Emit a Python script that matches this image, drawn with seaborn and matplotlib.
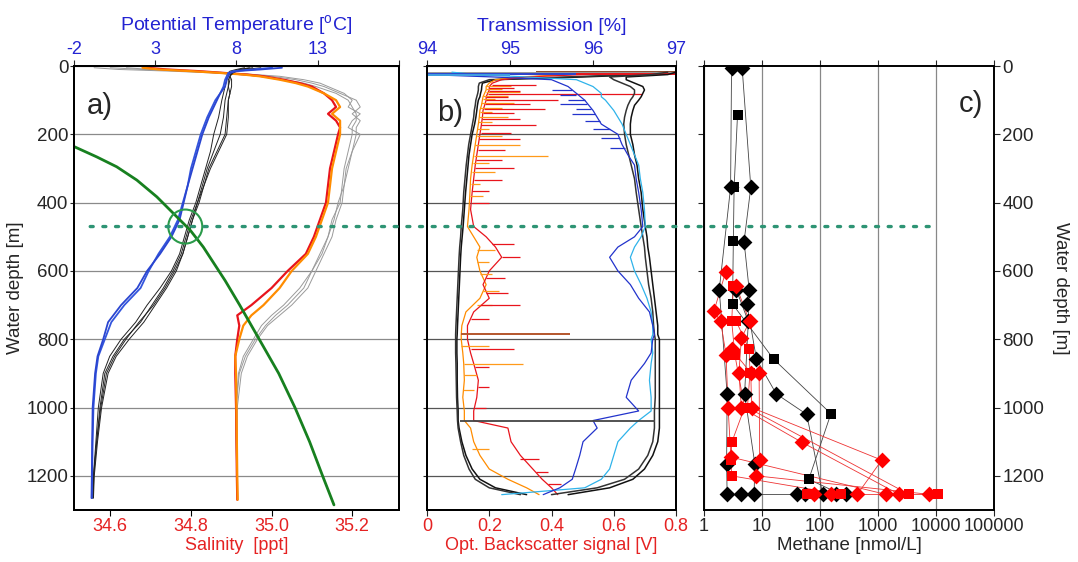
import seaborn as sns
import matplotlib.pyplot as plt
from matplotlib.patches import ConnectionPatch
from matplotlib.ticker import NullLocator

sns.set_style('ticks')
plt.rcParams['font.family'] = ['Liberation Sans', 'DejaVu Sans']
plt.rcParams['mathtext.fontset'] = 'custom'
plt.rcParams['mathtext.rm'] = 'Liberation Sans'
plt.rcParams['xtick.direction'] = 'out'
plt.rcParams['ytick.direction'] = 'out'

BLUE_TXT = '#2323d2'
RED_TXT = '#e52222'

# ---------------- panel a: CTD profiles ----------------
temp_depth = [5, 10, 15, 20, 30, 40, 60, 80, 100, 150, 200, 250, 300, 350, 400, 450,
              500, 550, 600, 650, 700, 750, 800, 850, 900, 1000, 1100, 1200, 1265]
temp_blue1 = [10.8, 9.5, 8.0, 7.6, 7.5, 7.4, 7.3, 7.0, 6.8, 6.3, 5.9, 5.6, 5.3, 5.0, 4.75, 4.5,
              4.0, 3.3, 2.5, 1.9, 0.9, 0.1, -0.2, -0.55, -0.7, -0.85, -0.88, -0.9, -0.92]
temp_blue2 = [10.2, 9.0, 7.8, 7.5, 7.4, 7.3, 7.2, 7.0, 6.7, 6.2, 5.8, 5.5, 5.2, 5.0, 4.7, 4.4,
              3.9, 3.2, 2.6, 2.1, 1.1, 0.3, -0.1, -0.5, -0.65, -0.8, -0.85, -0.88, -0.9]
temp_black1 = [9.5, 8.5, 8.0, 7.8, 7.6, 7.6, 7.5, 7.4, 7.3, 7.2, 7.0, 6.6, 6.2, 5.9, 5.6, 5.2,
               4.9, 4.6, 4.1, 3.5, 2.8, 2.1, 1.1, 0.4, -0.1, -0.4, -0.6, -0.8, -0.85]
temp_black2 = [8.8, 8.2, 7.8, 7.7, 7.6, 7.5, 7.5, 7.6, 7.5, 7.4, 7.3, 6.8, 6.3, 6.0, 5.6, 5.3,
               5.0, 4.7, 4.3, 3.7, 3.0, 2.3, 1.4, 0.6, 0.1, -0.3, -0.55, -0.75, -0.8]
temp_black3 = [8.5, 8.0, 7.6, 7.5, 7.4, 7.4, 7.3, 7.2, 7.1, 6.9, 6.6, 6.4, 6.1, 5.8, 5.5, 5.1,
               4.8, 4.5, 4.0, 3.3, 2.5, 1.8, 0.9, 0.2, -0.2, -0.5, -0.65, -0.8, -0.85]
temp_black4 = [9.0, 8.3, 7.9, 7.7, 7.6, 7.7, 7.7, 7.6, 7.5, 7.5, 7.4, 6.9, 6.4, 6.0, 5.7, 5.3,
               5.0, 4.7, 4.2, 3.6, 2.9, 2.0, 1.2, 0.5, 0.0, -0.35, -0.6, -0.78, -0.82]

sal_depth = [5, 10, 15, 20, 25, 30, 40, 50, 60, 80, 100, 120, 140, 160, 180, 200, 250, 300,
             350, 400, 450, 500, 550, 600, 650, 700, 730, 760, 800, 850, 900, 1000, 1100, 1200, 1270]
sal_orange = [34.68, 34.72, 34.80, 34.87, 34.93, 34.97, 35.02, 35.06, 35.09, 35.13, 35.16, 35.17,
              35.15, 35.17, 35.17, 35.17, 35.16, 35.15, 35.145, 35.14, 35.125, 35.11, 35.09, 35.05,
              35.02, 34.98, 34.95, 34.93, 34.92, 34.91, 34.912, 34.913, 34.914, 34.915, 34.916]
sal_red = [34.69, 34.74, 34.82, 34.88, 34.94, 34.98, 35.03, 35.07, 35.10, 35.13, 35.15, 35.16,
           35.14, 35.16, 35.17, 35.165, 35.155, 35.145, 35.14, 35.135, 35.12, 35.105, 35.085, 35.04,
           35.0, 34.95, 34.915, 34.92, 34.915, 34.91, 34.91, 34.912, 34.913, 34.914, 34.915]
sal_grey1 = [34.56, 34.62, 34.75, 34.85, 34.92, 34.97, 35.03, 35.08, 35.11, 35.16, 35.19, 35.20,
             35.21, 35.21, 35.20, 35.20, 35.19, 35.18, 35.175, 35.17, 35.15, 35.14, 35.12, 35.10,
             35.08, 35.04, 35.01, 34.985, 34.96, 34.935, 34.92, 34.912, 34.913, 34.914, 34.915]
sal_grey2 = [34.60, 34.68, 34.78, 34.88, 34.95, 35.00, 35.06, 35.10, 35.13, 35.17, 35.21, 35.22,
             35.20, 35.22, 35.21, 35.21, 35.20, 35.19, 35.18, 35.175, 35.16, 35.15, 35.13, 35.11,
             35.09, 35.05, 35.02, 34.99, 34.965, 34.94, 34.925, 34.915, 34.914, 34.915, 34.916]
sal_grey3 = [34.64, 34.70, 34.82, 34.90, 34.96, 35.02, 35.08, 35.12, 35.14, 35.18, 35.20, 35.19,
             35.22, 35.20, 35.19, 35.22, 35.20, 35.185, 35.18, 35.165, 35.155, 35.14, 35.125, 35.10,
             35.07, 35.03, 35.0, 34.975, 34.955, 34.93, 34.918, 34.912, 34.912, 34.914, 34.915]

# gas hydrate stability boundary (temperature vs depth)
hsz_depth = [225, 237, 266, 295, 334, 383, 442, 481, 530, 628, 700, 800, 900, 1000, 1100, 1200, 1285]
hsz_temp = [-2.6, -1.94, -0.6, 0.63, 1.87, 3.1, 4.34, 5.16, 5.96, 7.3, 8.2, 9.4, 10.6, 11.6,
            12.5, 13.3, 14.0]
hsz_cross_temp = 4.85
hsz_cross_depth = 470

# ---------------- panel b: optics ----------------
opt_depth = [18, 25, 32, 40, 50, 60, 70, 80, 90, 100, 115, 130, 150, 170, 200, 230, 260, 290,
             330, 370, 420, 470, 500, 530, 560, 600, 640, 680, 720, 760, 786, 800, 840, 871,
             920, 970, 1010, 1038, 1060, 1100, 1140, 1180, 1210, 1235, 1255]
obs_black1 = [0.75, 0.7, 0.5, 0.22, 0.178, 0.176, 0.175, 0.172, 0.17, 0.165, 0.162, 0.16, 0.157,
              0.153, 0.145, 0.14, 0.135, 0.132, 0.128, 0.124, 0.12, 0.116, 0.113, 0.11, 0.108,
              0.106, 0.104, 0.102, 0.1, 0.098, 0.097, 0.096, 0.096, 0.097, 0.097, 0.098, 0.1,
              0.1, 0.103, 0.112, 0.125, 0.145, 0.17, 0.22, 0.32]
obs_black2 = [0.7, 0.66, 0.45, 0.2, 0.168, 0.165, 0.165, 0.163, 0.16, 0.157, 0.155, 0.152, 0.15,
              0.146, 0.14, 0.134, 0.13, 0.126, 0.122, 0.118, 0.115, 0.11, 0.108, 0.105, 0.103,
              0.101, 0.099, 0.097, 0.095, 0.093, 0.092, 0.092, 0.092, 0.093, 0.094, 0.095, 0.097,
              0.098, 0.1, 0.108, 0.118, 0.135, 0.155, 0.2, 0.3]
obs_orange = [0.8, 0.45, 0.3, 0.22, 0.2, 0.19, 0.19, 0.185, 0.18, 0.178, 0.175, 0.17, 0.168,
              0.165, 0.16, 0.155, 0.15, 0.145, 0.14, 0.138, 0.135, 0.13, 0.15, 0.17, 0.16, 0.17,
              0.19, 0.17, 0.125, 0.112, 0.11, 0.11, 0.115, 0.118, 0.12, 0.115, 0.12, 0.12, 0.14,
              0.15, 0.17, 0.2, 0.26, 0.32, 0.36]
obs_red = [0.8, 0.5, 0.32, 0.24, 0.21, 0.2, 0.2, 0.195, 0.19, 0.19, 0.185, 0.18, 0.178, 0.175,
           0.17, 0.165, 0.16, 0.155, 0.15, 0.145, 0.14, 0.15, 0.19, 0.22, 0.24, 0.2, 0.18, 0.2,
           0.15, 0.13, 0.13, 0.13, 0.14, 0.15, 0.165, 0.16, 0.15, 0.15, 0.26, 0.27, 0.3, 0.34,
           0.37, 0.4, 0.42]
trans_black1 = [97.0, 96.9, 96.4, 96.4, 96.5, 96.6, 96.62, 96.6, 96.58, 96.55, 96.5, 96.48,
                96.46, 96.45, 96.45, 96.48, 96.5, 96.53, 96.55, 96.58, 96.6, 96.63, 96.65, 96.66,
                96.68, 96.7, 96.72, 96.74, 96.76, 96.78, 96.78, 96.8, 96.8, 96.8, 96.8, 96.8,
                96.8, 96.8, 96.8, 96.78, 96.72, 96.62, 96.48, 96.2, 95.7]
trans_black2 = [96.9, 96.7, 96.2, 96.25, 96.35, 96.45, 96.5, 96.5, 96.48, 96.45, 96.42, 96.4,
                96.38, 96.37, 96.38, 96.4, 96.43, 96.46, 96.5, 96.52, 96.55, 96.58, 96.6, 96.62,
                96.63, 96.65, 96.67, 96.7, 96.72, 96.73, 96.74, 96.75, 96.75, 96.75, 96.75, 96.75,
                96.74, 96.74, 96.74, 96.72, 96.66, 96.55, 96.38, 96.05, 95.5]
trans_blue = [94.0, 94.0, 94.8, 95.5, 95.6, 95.7, 95.75, 95.8, 95.85, 95.9, 95.95, 96.0, 96.05,
              96.1, 96.3, 96.35, 96.42, 96.5, 96.52, 96.55, 96.58, 96.6, 96.5, 96.3, 96.2, 96.3,
              96.45, 96.55, 96.68, 96.72, 96.74, 96.72, 96.7, 96.62, 96.46, 96.4, 96.55, 96.0,
              96.05, 95.88, 95.84, 95.79, 95.75, 95.6, 95.4]
trans_cyan = [94.3, 94.6, 95.2, 95.8, 95.9, 96.0, 96.05, 96.1, 96.1, 96.15, 96.2, 96.25, 96.3,
              96.35, 96.4, 96.45, 96.5, 96.55, 96.57, 96.6, 96.62, 96.63, 96.58, 96.5, 96.45,
              96.5, 96.58, 96.65, 96.7, 96.72, 96.72, 96.7, 96.72, 96.7, 96.68, 96.7, 96.7,
              96.55, 96.45, 96.3, 96.25, 96.2, 96.1, 95.9, 94.9]

# single-sample spikes (depth, start, end)
orange_spike_depth = [58, 66, 75, 88, 97, 108, 122, 135, 148, 165, 185, 205, 230, 262, 285, 310,
                      345, 380, 540, 575, 610, 660, 700, 820, 871, 905, 950, 1120]
orange_spike_base = [0.19, 0.19, 0.19, 0.18, 0.18, 0.175, 0.17, 0.17, 0.168, 0.165, 0.16, 0.16,
                     0.155, 0.15, 0.148, 0.145, 0.14, 0.138, 0.16, 0.16, 0.17, 0.18, 0.16, 0.11,
                     0.118, 0.12, 0.115, 0.145]
orange_spike_peak = [0.27, 0.24, 0.3, 0.26, 0.22, 0.28, 0.24, 0.21, 0.26, 0.21, 0.2, 0.24, 0.3,
                     0.39, 0.2, 0.22, 0.17, 0.18, 0.22, 0.2, 0.21, 0.23, 0.21, 0.2, 0.31, 0.16,
                     0.15, 0.2]
red_spike_depth = [55, 63, 72, 83, 92, 100, 112, 125, 138, 155, 172, 195, 215, 245, 275, 300,
                   335, 365, 400, 520, 560, 620, 665, 700, 740, 830, 880, 940, 1000, 1150, 1190, 1225]
red_spike_base = [0.21, 0.2, 0.2, 0.195, 0.19, 0.19, 0.187, 0.182, 0.18, 0.178, 0.175, 0.172,
                  0.168, 0.163, 0.158, 0.155, 0.15, 0.146, 0.143, 0.21, 0.24, 0.19, 0.19, 0.17,
                  0.14, 0.14, 0.155, 0.165, 0.155, 0.3, 0.35, 0.39]
red_spike_peak = [0.35, 0.28, 0.3, 0.69, 0.26, 0.42, 0.33, 0.38, 0.28, 0.3, 0.35, 0.27, 0.3,
                  0.25, 0.24, 0.28, 0.24, 0.2, 0.2, 0.28, 0.3, 0.25, 0.26, 0.3, 0.2, 0.28, 0.2,
                  0.2, 0.19, 0.36, 0.39, 0.43]
blue_spike_depth = [70, 85, 100, 112, 125, 140, 160, 185, 210, 240]
blue_spike_base = [95.75, 95.8, 95.9, 95.93, 95.97, 96.02, 96.08, 96.2, 96.32, 96.38]
blue_spike_tip = [95.5, 95.6, 95.7, 95.6, 95.8, 95.75, 95.9, 96.0, 96.1, 96.2]
brown_spike = (786, 0.11, 0.46)
black_trans_spike = (1038, 94.4, 96.75)
surface_bs_depth = [18, 21, 24]
surface_bs_from = [0.35, 0.0, 0.25]
surface_bs_to = [0.8, 0.8, 0.8]
surface_tr_depth = [22, 27]
surface_tr_from = [94.0, 94.0]
surface_tr_to = [95.8, 95.0]

# ---------------- panel c: methane in water samples ----------------
# black = reference stations, red = flare stations; D = diamond, s = square
ch4_black_a_depth = [5, 355, 655, 960, 1164, 1254]
ch4_black_a = [2.98, 2.87, 1.83, 2.5, 2.45, 2.5]
ch4_black_b_depth = [5, 355, 514, 655, 697, 858, 960, 1020, 1254]
ch4_black_b = [4.54, 6.4, 4.9, 6.0, 5.5, 8.0, 17.6, 59, 111]
ch4_black_c_depth = [142, 355, 512, 697, 858, 1018, 1210, 1254]
ch4_black_c = [3.78, 3.3, 3.2, 3.1, 15.8, 154, 64, 228]
ch4_black_d_depth = [655, 748, 960, 1164, 1254]
ch4_black_d = [3.6, 5.8, 5.0, 7.5, 7.3]
ch4_black_e_depth = [1254, 1254, 1254, 1254, 1254]
ch4_black_e = [4.4, 40, 54, 188, 280]

ch4_red_a_depth = [604, 718, 748, 846, 1000, 1145, 1254]
ch4_red_a = [2.35, 1.48, 1.93, 2.4, 2.6, 2.9, 1350]
ch4_red_b_depth = [645, 748, 846, 1000, 1102, 1154, 1200, 1254]
ch4_red_b = [3.2, 3.0, 3.4, 5.0, 3.0, 2.9, 3.0, 230]
ch4_red_c_depth = [645, 748, 797, 898, 1000, 1102, 1254]
ch4_red_c = [3.6, 6.1, 4.4, 4.0, 4.4, 49, 2300]
ch4_red_d_depth = [748, 830, 898, 1000, 1254]
ch4_red_d = [3.6, 6.0, 6.2, 5.6, 3400]
ch4_red_e_depth = [830, 898, 1000, 1154, 1254]
ch4_red_e = [3.0, 6.4, 6.6, 1158, 440]
ch4_red_f_depth = [898, 1154, 1200, 1254]
ch4_red_f = [8.9, 9.1, 8.0, 7500]
ch4_red_g_depth = [1254, 1254]
ch4_red_g = [60, 11000]
ch4_red_h_depth = [1254, 1254]
ch4_red_h = [80, 155]

depth_ticks = [0, 200, 400, 600, 800, 1000, 1200]


def profile(ax, x, y, color, lw=0.8, zorder=2):
    sns.lineplot(x=x, y=y, ax=ax, sort=False, estimator=None, color=color,
                 lw=lw, legend=False, zorder=zorder)


fig = plt.figure(figsize=(10.78, 5.62), dpi=100)
ax_a = fig.add_axes([0.0686, 0.0925, 0.3015, 0.790])
ax_b = fig.add_axes([0.3961, 0.0925, 0.2310, 0.790])
ax_c = fig.add_axes([0.6531, 0.0925, 0.2690, 0.790])
ax_at = ax_a.twiny()
ax_bt = ax_b.twiny()

# --- panel a
for s in [sal_grey1, sal_grey2, sal_grey3]:
    profile(ax_a, s, sal_depth, '#9a9a9a', lw=0.7)
profile(ax_a, sal_red, sal_depth, '#e8141c', lw=1.6)
profile(ax_a, sal_orange, sal_depth, '#ff8c00', lw=1.6)
for t in [temp_black1, temp_black2, temp_black3, temp_black4]:
    profile(ax_at, t, temp_depth, '#222222', lw=0.7)
profile(ax_at, temp_blue2, temp_depth, '#3355dd', lw=1.3)
profile(ax_at, temp_blue1, temp_depth, '#2a45d0', lw=1.3)
profile(ax_at, hsz_temp, hsz_depth, '#17801f', lw=2.0)
ax_at.scatter([hsz_cross_temp], [hsz_cross_depth], s=600, facecolors='none',
              edgecolors='#2a9a4a', linewidths=1.5, zorder=5)

ax_a.set_ylim(1300, 0)
ax_a.set_xlim(34.51, 35.316)
ax_a.set_xticks([34.6, 34.8, 35.0, 35.2])
ax_a.set_xticklabels(['34.6', '34.8', '35.0', '35.2'])
ax_a.set_yticks(depth_ticks)
ax_a.grid(axis='y', color='#8a8a8a', lw=0.9)
ax_a.set_axisbelow(True)
ax_a.tick_params(axis='x', colors='black', labelcolor=RED_TXT, labelsize=13, length=4, pad=2)
ax_a.tick_params(axis='y', labelsize=13.5, length=3, pad=1)
ax_a.set_xlabel('Salinity  [ppt]', color=RED_TXT, fontsize=13, labelpad=1)
ax_a.set_ylabel('Water depth [m]', fontsize=13.5, labelpad=2)

ax_at.set_xlim(-2, 18)
ax_at.set_xticks([-2, 3, 8, 13, 18])
ax_at.set_xticklabels(['-2', '3', '8', '13', ''])
ax_at.tick_params(axis='x', labelcolor=BLUE_TXT, labelsize=13, length=4, pad=2)
ax_at.set_xlabel('Potential Temperature [$^\\mathrm{o}$C]', color=BLUE_TXT, fontsize=14, labelpad=7)
ax_a.text(0.04, 0.91, 'a)', transform=ax_a.transAxes, fontsize=21, va='center')

# --- panel b
profile(ax_b, obs_black1, opt_depth, '#111111', lw=1.1)
profile(ax_b, obs_black2, opt_depth, '#333333', lw=1.1)
profile(ax_b, obs_orange, opt_depth, '#ff8c00', lw=0.9)
profile(ax_b, obs_red, opt_depth, '#e8141c', lw=0.9)
ax_b.hlines(orange_spike_depth, orange_spike_base, orange_spike_peak, color='#ff9a1a', lw=0.9, zorder=2)
ax_b.hlines(red_spike_depth, red_spike_base, red_spike_peak, color='#e8141c', lw=0.9, zorder=2)
ax_b.hlines([brown_spike[0]], [brown_spike[1]], [brown_spike[2]], color='#b4562c', lw=1.4, zorder=2)
ax_b.hlines(surface_bs_depth, surface_bs_from, surface_bs_to,
            color=['#8b4a2a', '#999999', '#e8141c'], lw=1.4, zorder=2)

profile(ax_bt, trans_black1, opt_depth, '#111111', lw=1.1)
profile(ax_bt, trans_black2, opt_depth, '#333333', lw=1.1)
profile(ax_bt, trans_cyan, opt_depth, '#2fb3ea', lw=0.9)
profile(ax_bt, trans_blue, opt_depth, '#2233cc', lw=0.9)
ax_bt.hlines(blue_spike_depth, blue_spike_base, blue_spike_tip, color='#2233cc', lw=0.9, zorder=2)
ax_bt.hlines([black_trans_spike[0]], [black_trans_spike[1]], [black_trans_spike[2]],
             color='#444444', lw=1.3, zorder=2)
ax_bt.hlines(surface_tr_depth, surface_tr_from, surface_tr_to,
             color=['#2a45d0', '#3fa0e0'], lw=1.4, zorder=2)

ax_b.set_ylim(1300, 0)
ax_b.set_xlim(0, 0.8)
ax_b.set_xticks([0, 0.2, 0.4, 0.6, 0.8])
ax_b.set_xticklabels(['0', '0.2', '0.4', '0.6', '0.8'])
ax_b.set_yticks(depth_ticks)
ax_b.grid(axis='y', color='#555555', lw=0.9)
ax_b.set_axisbelow(True)
ax_b.tick_params(axis='x', labelcolor=RED_TXT, labelsize=13, length=4, pad=2)
ax_b.tick_params(axis='y', labelleft=False, length=3)
ax_b.set_xlabel('Opt. Backscatter signal [V]', color=RED_TXT, fontsize=13, labelpad=1)
ax_b.set_ylabel('')

ax_bt.set_xlim(94, 97)
ax_bt.set_xticks([94, 95, 96, 97])
ax_bt.tick_params(axis='x', labelcolor=BLUE_TXT, labelsize=13, length=4, pad=2)
ax_bt.set_xlabel('Transmission [%]', color=BLUE_TXT, fontsize=14, labelpad=7)
ax_b.text(0.04, 0.895, 'b)', transform=ax_b.transAxes, fontsize=21, va='center')

# --- panel c
black_st = [(ch4_black_a, ch4_black_a_depth, 'D'), (ch4_black_b, ch4_black_b_depth, 'D'),
            (ch4_black_c, ch4_black_c_depth, 's'), (ch4_black_d, ch4_black_d_depth, 'D'),
            (ch4_black_e, ch4_black_e_depth, 'D')]
red_st = [(ch4_red_a, ch4_red_a_depth, 'D'), (ch4_red_b, ch4_red_b_depth, 's'),
          (ch4_red_c, ch4_red_c_depth, 'D'), (ch4_red_d, ch4_red_d_depth, 's'),
          (ch4_red_e, ch4_red_e_depth, 'D'), (ch4_red_f, ch4_red_f_depth, 'D'),
          (ch4_red_g, ch4_red_g_depth, 's'), (ch4_red_h, ch4_red_h_depth, 'D')]
ax_c.set_xscale('log')
for vals, dep, mk in black_st:
    profile(ax_c, vals, dep, '#444444', lw=0.6)
for vals, dep, mk in red_st:
    profile(ax_c, vals, dep, '#ee3333', lw=0.6)
for vals, dep, mk in black_st:
    sns.scatterplot(x=vals, y=dep, ax=ax_c, marker=mk, color='black', s=65 if mk == 'D' else 55,
                    linewidth=0, legend=False, zorder=4)
for vals, dep, mk in red_st:
    sns.scatterplot(x=vals, y=dep, ax=ax_c, marker=mk, color='#ff0000', s=65 if mk == 'D' else 55,
                    linewidth=0, legend=False, zorder=4)

ax_c.set_xlim(1, 100000)
ax_c.set_ylim(1300, 0)
ax_c.set_xticks([1, 10, 100, 1000, 10000, 100000])
ax_c.set_xticklabels(['1', '10', '100', '1000', '10000', '100000'])
ax_c.xaxis.set_minor_locator(NullLocator())
ax_c.set_yticks(depth_ticks)
ax_c.grid(axis='x', color='#888888', lw=0.9)
ax_c.set_axisbelow(True)
ax_c.yaxis.set_label_position('right')
ax_c.tick_params(axis='y', left=True, right=True, labelleft=False, labelright=True,
                 labelsize=13.5, length=4, pad=2)
ax_c.tick_params(axis='x', top=True, labelsize=13, length=4, pad=2)
ax_c.set_xlabel('Methane [nmol/L]', fontsize=13.5, labelpad=1)
ax_c.set_ylabel('Water depth [m]', fontsize=13.5, rotation=270, labelpad=18)
ax_c.text(0.92, 0.915, 'c)', transform=ax_c.transAxes, fontsize=21, va='center', ha='center')

for ax in [ax_a, ax_b, ax_c, ax_at, ax_bt]:
    for sp in ax.spines.values():
        sp.set_color('black')
        sp.set_linewidth(1.4)

# dotted line marking the top of the hydrate stability zone
con = ConnectionPatch(xyA=(0.05, hsz_cross_depth), coordsA=ax_a.get_yaxis_transform(),
                      xyB=(0.78, hsz_cross_depth), coordsB=ax_c.get_yaxis_transform(),
                      color='#2e9474', lw=2.4, linestyle=(0, (0.9, 2.9)), zorder=10)
fig.add_artist(con)

fig.savefig('out.png', dpi=100)
plt.close()
